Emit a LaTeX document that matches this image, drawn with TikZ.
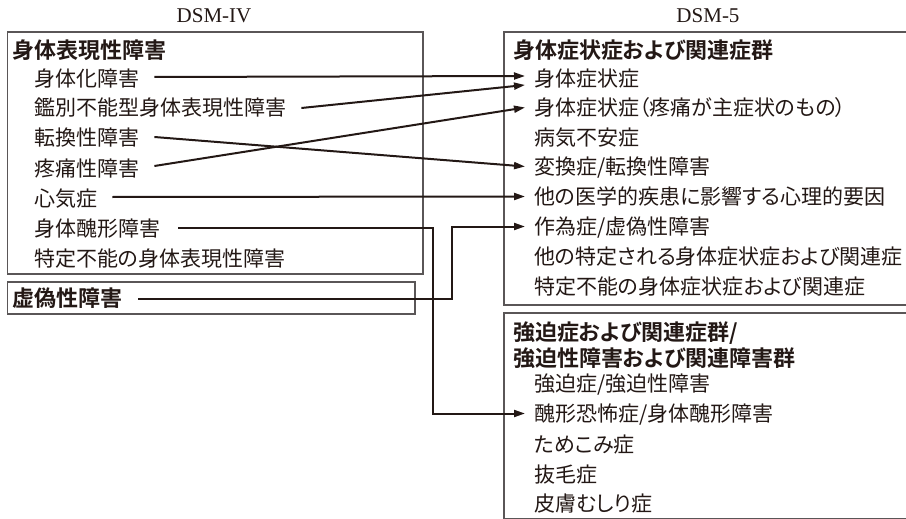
\documentclass[tikz,border=0pt]{standalone}
\usepackage{fontspec}
\setmainfont{Liberation Serif}
\newfontfamily\jp[RawFeature=+palt]{Noto Sans CJK JP}
\newfontfamily\jpb[RawFeature=+palt]{Noto Sans CJK JP Bold}
\usetikzlibrary{arrows.meta,calc}
\definecolor{ink}{HTML}{231815}
\definecolor{frame}{HTML}{5A5657}
\begin{document}
\begin{tikzpicture}[x=1pt,y=-1pt,
  item/.style={anchor=west,inner sep=0pt,font=\jp\fontsize{21}{21}\selectfont,text height=18.5pt,text depth=2.5pt,text=ink},
  head/.style={item,font=\jpb\fontsize{22}{22}\selectfont,text height=19.4pt,text depth=2.6pt},
  box/.style={draw=frame,line width=1.2pt},
  arr/.style={draw=ink,line width=2pt,-{Triangle[length=11pt,width=7pt]},line join=miter},
  dsm/.style={anchor=base,inner sep=0pt,font=\fontsize{21}{21}\selectfont,text=ink}]
\useasboundingbox (0,0) rectangle (906,519);
\node[dsm] (dsm4) at (214,23) {DSM-IV};
\node[dsm] (dsm5) at (708,23) {DSM-5};
% frames
\draw[box] (7.5,32) rectangle (423,274);
\draw[box] (7.5,282) rectangle (415,314);
\begin{scope}
\clip (0,0) rectangle (906,519);
\draw[box] (504,32) rectangle (912,305);
\draw[box] (504,313) rectangle (912,518.6);
\end{scope}
% left column
\node[head] (lh) at (12,50) {身体表現性障害};
\node[item] (l1) at (34,79) {身体化障害};
\node[item] (l2) at (34,108) {鑑別不能型身体表現性障害};
\node[item] (l3) at (34,138) {転換性障害};
\node[item] (l4) at (34,168) {疼痛性障害};
\node[item] (l5) at (34,198.5) {心気症};
\node[item] (l6) at (34,228) {身体醜形障害};
\node[item] (l7) at (34,258) {特定不能の身体表現性障害};
\node[head] (f) at (12,298.5) {虚偽性障害};
% right column
\node[head] (rh) at (513,50) {身体症状症および関連症群};
\node[item] (r1) at (534,79) {身体症状症};
\node[item] (r2) at (534,107.5) {身体症状症（疼痛が主症状のもの）};
\node[item] (r3) at (534,137.5) {病気不安症};
\node[item] (r4) at (534,166.5) {変換症/転換性障害};
\node[item] (r5) at (534,196.5) {他の医学的疾患に影響する心理的要因};
\node[item] (r6) at (534,226.5) {作為症/虚偽性障害};
\node[item] (r7) at (534,256.5) {他の特定される身体症状症および関連症};
\node[item] (r8) at (534,286) {特定不能の身体症状症および関連症};
\node[head] (oh1) at (513,332.5) {強迫症および関連症群/};
\node[head] (oh2) at (513,358) {強迫性障害および関連障害群};
\node[item] (o1) at (534,383) {強迫症/強迫性障害};
\node[item] (o2) at (534,413.5) {醜形恐怖症/身体醜形障害};
\node[item] (o3) at (534,444) {ためこみ症};
\node[item] (o4) at (534,474) {抜毛症};
\node[item] (o5) at (534,503) {皮膚むしり症};
% connectors
\coordinate (v6) at (433,0);
\coordinate (v7) at (452,0);
\draw[arr] ([xshift=15pt,yshift=2pt]l1.east) -- ([xshift=-9pt,yshift=3pt]r1.west);
\draw[arr] ([xshift=15pt]l2.east) -- ([xshift=-9pt,yshift=-6pt]r1.west);
\draw[arr] ([xshift=15pt,yshift=1pt]l3.east) -- ([xshift=-9pt]r4.west);
\draw[arr] ([xshift=15pt,yshift=2pt]l4.east) -- ([xshift=-9pt]r2.west);
\draw[arr] ([xshift=15pt,yshift=1.5pt]l5.east) -- ([xshift=-9pt]r5.west);
\draw[arr] ([xshift=18pt]l6.east) -- (v6 |- l6.east) -- (v6 |- o2.west) -- ([xshift=-9pt]o2.west);
\draw[arr] ([xshift=16pt]f.east) -- (v7 |- f.east) -- (v7 |- r6.west) -- ([xshift=-9pt]r6.west);
\end{tikzpicture}
\end{document}
